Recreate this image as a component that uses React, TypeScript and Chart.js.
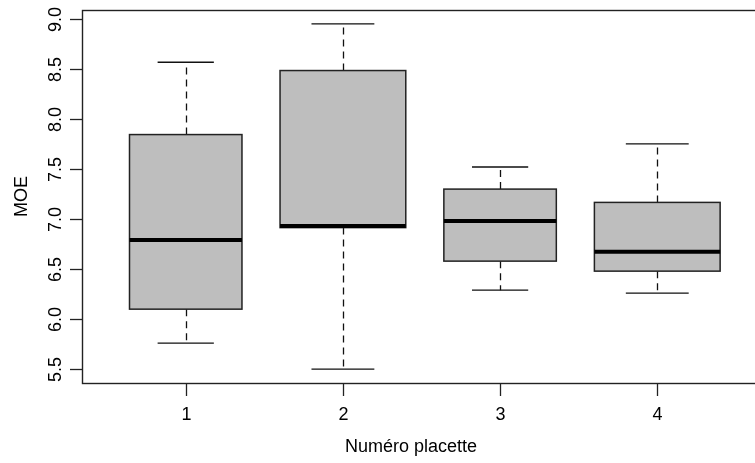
import React, { useEffect, useRef } from "react";
import { Chart, registerables } from "chart.js";

Chart.register(...registerables);

// ---- data ----
const categories = ["1", "2", "3", "4"];
const whiskerLow = [5.76, 5.5, 6.29, 6.26];
const quartile1 = [6.1, 6.915, 6.58, 6.48];
const medians = [6.79, 6.93, 6.98, 6.675];
const quartile3 = [7.845, 8.485, 7.3, 7.167];
const whiskerHigh = [8.568, 8.952, 7.521, 7.752];
const groupSizes = [8, 10, 8, 10];
const yTickValues = [5.5, 6.0, 6.5, 7.0, 7.5, 8.0, 8.5, 9.0];
const xTitle = "Numéro placette";
const yTitle = "MOE";

// ---- style ----
const CANVAS_W = 780;
const CANVAS_H = 463;
const FONT = '18px "Liberation Sans", Arial, sans-serif';
const BOX_FILL = "#BEBEBE";
const INK = "#111";

const yMinData = Math.min(...whiskerLow);
const yMaxData = Math.max(...whiskerHigh);
const yRange = yMaxData - yMinData;
const Y_MIN = yMinData - 0.04 * yRange;
const Y_MAX = yMaxData + 0.04 * yRange;
const X_MIN = 0.5 - 0.04 * categories.length;
const X_MAX = categories.length + 0.5 + 0.04 * categories.length;

const rBoxPlugin = {
  id: "rBoxPlot",
  afterDraw(chart: any) {
    const { ctx, chartArea: a } = chart;
    const x = chart.scales.x;
    const y = chart.scales.y;
    const maxN = Math.max(...groupSizes);
    ctx.save();

    categories.forEach((_, i) => {
      const pos = i + 1;
      const half = 0.4 * Math.sqrt(groupSizes[i] / maxN);
      const cx = Math.round(x.getPixelForValue(pos)) + 0.5;
      const left = x.getPixelForValue(pos - half);
      const right = x.getPixelForValue(pos + half);
      const capL = x.getPixelForValue(pos - half / 2);
      const capR = x.getPixelForValue(pos + half / 2);
      const yLo = y.getPixelForValue(whiskerLow[i]);
      const yQ1 = y.getPixelForValue(quartile1[i]);
      const yMed = y.getPixelForValue(medians[i]);
      const yQ3 = y.getPixelForValue(quartile3[i]);
      const yHi = y.getPixelForValue(whiskerHigh[i]);

      // whiskers (dashed)
      ctx.strokeStyle = INK;
      ctx.lineWidth = 1.3;
      ctx.setLineDash([7, 5]);
      ctx.beginPath();
      ctx.moveTo(cx, yQ3);
      ctx.lineTo(cx, yHi);
      ctx.moveTo(cx, yQ1);
      ctx.lineTo(cx, yLo);
      ctx.stroke();
      ctx.setLineDash([]);

      // caps
      ctx.beginPath();
      ctx.moveTo(capL, yHi);
      ctx.lineTo(capR, yHi);
      ctx.moveTo(capL, yLo);
      ctx.lineTo(capR, yLo);
      ctx.stroke();

      // box
      ctx.fillStyle = BOX_FILL;
      ctx.fillRect(left, yQ3, right - left, yQ1 - yQ3);
      ctx.lineWidth = 1.5;
      ctx.strokeStyle = "#222";
      ctx.strokeRect(left, yQ3, right - left, yQ1 - yQ3);

      // median
      ctx.strokeStyle = "#000";
      ctx.lineWidth = 4;
      ctx.beginPath();
      ctx.moveTo(left, yMed);
      ctx.lineTo(right, yMed);
      ctx.stroke();
    });

    // frame
    ctx.strokeStyle = "#222";
    ctx.lineWidth = 1.4;
    ctx.strokeRect(a.left + 0.5, a.top + 0.5, a.right - a.left, a.bottom - a.top);

    ctx.fillStyle = "#000";
    ctx.font = FONT;
    ctx.lineWidth = 1.3;
    ctx.strokeStyle = "#222";

    // y axis ticks and labels
    yTickValues.forEach((v) => {
      const py = Math.round(y.getPixelForValue(v)) + 0.5;
      ctx.beginPath();
      ctx.moveTo(a.left - 12, py);
      ctx.lineTo(a.left + 0.5, py);
      ctx.stroke();
      ctx.save();
      ctx.translate(a.left - 21, py);
      ctx.rotate(-Math.PI / 2);
      ctx.textAlign = "center";
      ctx.textBaseline = "alphabetic";
      ctx.fillText(v.toFixed(1), 0, 0);
      ctx.restore();
    });

    // x axis ticks and labels
    categories.forEach((c, i) => {
      const px = Math.round(x.getPixelForValue(i + 1)) + 0.5;
      ctx.beginPath();
      ctx.moveTo(px, a.bottom);
      ctx.lineTo(px, a.bottom + 13);
      ctx.stroke();
      ctx.textAlign = "center";
      ctx.textBaseline = "alphabetic";
      ctx.fillText(c, px, a.bottom + 37);
    });

    // titles
    ctx.textAlign = "center";
    ctx.textBaseline = "alphabetic";
    ctx.fillText(xTitle, 411, a.bottom + 69);
    ctx.save();
    ctx.translate(27, (a.top + a.bottom) / 2);
    ctx.rotate(-Math.PI / 2);
    ctx.fillText(yTitle, 0, 0);
    ctx.restore();

    ctx.restore();
  },
};

export default function App() {
  const canvasRef = useRef<HTMLCanvasElement | null>(null);

  useEffect(() => {
    const canvas = canvasRef.current;
    if (!canvas) return;
    const chart = new Chart(canvas, {
      type: "scatter",
      data: {
        datasets: [
          {
            label: "median",
            data: categories.map((_, i) => ({ x: i + 1, y: medians[i] })),
            pointRadius: 0,
            pointHoverRadius: 0,
            showLine: false,
          },
        ],
      },
      options: {
        animation: false,
        responsive: false,
        devicePixelRatio: 1,
        events: [],
        layout: {
          padding: { left: 82, top: 10, right: CANVAS_W - 761, bottom: CANVAS_H - 383 },
        },
        plugins: {
          legend: { display: false },
          tooltip: { enabled: false },
          title: { display: false },
        },
        scales: {
          x: { type: "linear", min: X_MIN, max: X_MAX, display: false },
          y: { type: "linear", min: Y_MIN, max: Y_MAX, display: false },
        },
      },
      plugins: [rBoxPlugin],
    });
    return () => chart.destroy();
  }, []);

  return (
    <div
      style={{
        position: "absolute",
        left: 0,
        top: 0,
        width: 755,
        height: 463,
        overflow: "hidden",
        background: "#fff",
      }}
    >
      <canvas
        ref={canvasRef}
        width={CANVAS_W}
        height={CANVAS_H}
        style={{ width: CANVAS_W, height: CANVAS_H, display: "block" }}
      />
    </div>
  );
}
